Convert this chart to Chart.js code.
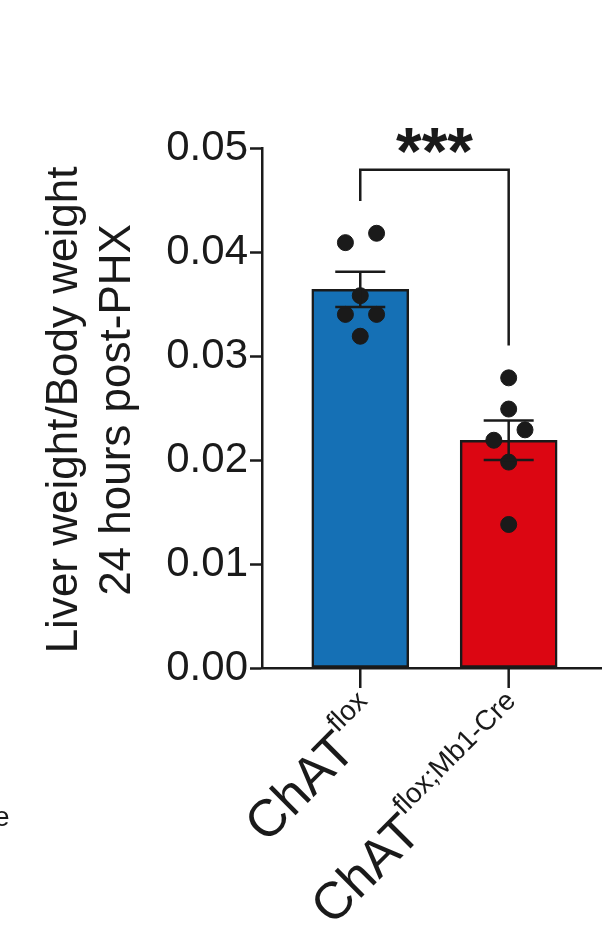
<!DOCTYPE html>
<html><head><meta charset="utf-8">
<script src="https://cdn.jsdelivr.net/npm/chart.js@4"></script>
<style>html,body{margin:0;padding:0;background:#fff}#w{width:610px;height:942px}</style>
</head><body><div id="w"><canvas id="c"></canvas></div>
<script>
const categories = ["ChAT|flox", "ChAT|flox;Mb1-Cre"];
const means = [0.0364, 0.0219];
const sems = [0.0017, 0.0019];
const pointsFlox = [0.0409, 0.0418, 0.0358, 0.0340, 0.0340, 0.0319];
const pointsCre = [0.0279, 0.0249, 0.0229, 0.0219, 0.0198, 0.0138];
const pointOffsets = [[-0.1, 0.11, 0, -0.1, 0.11, 0], [0, 0, 0.11, -0.1, 0, 0]];
const yTicks = [0, 0.01, 0.02, 0.03, 0.04, 0.05];
const barColors = ["#1570b5", "#dc0612"];
const signif = "***";
const yTitle = ["Liver weight/Body weight", "24 hours post-PHX"];
const FONT = "'Liberation Sans', Arial, sans-serif";
const INK = "#1a1a1a";

const scatter = [];
[pointsFlox, pointsCre].forEach((arr, g) => arr.forEach((v, i) => scatter.push({x: g + 1 + pointOffsets[g][i], y: v})));

const overlay = {
  id: 'overlay',
  afterDatasetsDraw(chart) {
    const ctx = chart.ctx, x = chart.scales.x, y = chart.scales.y;
    ctx.save();
    ctx.strokeStyle = INK; ctx.lineWidth = 2.5;
    const y0 = y.getPixelForValue(0);
    // x tick marks
    [1, 2].forEach(v => {
      const cx = x.getPixelForValue(v);
      ctx.beginPath(); ctx.moveTo(cx, y0); ctx.lineTo(cx, y0 + 20); ctx.stroke();
    });
    // error bars
    means.forEach((m, i) => {
      const cx = x.getPixelForValue(i + 1);
      const t = y.getPixelForValue(m + sems[i]), b = y.getPixelForValue(m - sems[i]);
      ctx.beginPath();
      ctx.moveTo(cx, t); ctx.lineTo(cx, b);
      ctx.moveTo(cx - 25, t); ctx.lineTo(cx + 25, t);
      ctx.moveTo(cx - 25, b); ctx.lineTo(cx + 25, b);
      ctx.stroke();
    });
    // bracket
    const x1 = x.getPixelForValue(1), x2 = x.getPixelForValue(2);
    const top = y.getPixelForValue(0.0479);
    ctx.beginPath();
    ctx.moveTo(x1, y.getPixelForValue(0.0449)); ctx.lineTo(x1, top);
    ctx.lineTo(x2, top); ctx.lineTo(x2, y.getPixelForValue(0.0310));
    ctx.stroke();
    ctx.fillStyle = INK;
    ctx.font = "bold 66px " + FONT; ctx.textAlign = 'center'; ctx.textBaseline = 'alphabetic';
    ctx.fillText(signif, (x1 + x2) / 2, top + 4);
    // x labels
    categories.forEach((c, i) => {
      const [base, sup] = c.split('|');
      const cx = x.getPixelForValue(i + 1);
      ctx.save();
      ctx.translate(cx + 14, 708);
      ctx.rotate(-Math.PI / 4);
      ctx.font = "52px " + FONT;
      const wb = ctx.measureText(base).width;
      ctx.font = "28px " + FONT;
      const ws = ctx.measureText(sup).width;
      ctx.textAlign = 'left'; ctx.textBaseline = 'alphabetic';
      ctx.font = "52px " + FONT;
      ctx.fillText(base, -(wb + ws), 20);
      ctx.font = "28px " + FONT;
      ctx.fillText(sup, -ws, -8);
      ctx.restore();
    });
    // y title
    ctx.save();
    ctx.translate(92, 410); ctx.rotate(-Math.PI / 2);
    ctx.font = "44px " + FONT; ctx.textAlign = 'center'; ctx.textBaseline = 'middle';
    ctx.fillText(yTitle[0], 0, -27);
    ctx.fillText(yTitle[1], 0, 26);
    ctx.restore();
    // cut-off neighbour text
    ctx.font = "28px " + FONT; ctx.textAlign = 'left';
    ctx.fillText("e", -6, 826);
    ctx.restore();
  }
};

new Chart(document.getElementById('c'), {
  data: {
    datasets: [
      {type: 'scatter', data: scatter, backgroundColor: INK, borderColor: INK, pointRadius: 8, pointHoverRadius: 8, order: 0},
      {type: 'bar', data: means.map((m, i) => ({x: i + 1, y: m})), backgroundColor: barColors, borderColor: INK, borderWidth: 2.5, borderSkipped: false, barThickness: 97, order: 1}
    ]
  },
  options: {
    responsive: true, maintainAspectRatio: false, animation: false,
    layout: {padding: {left: 0, right: 0, top: 148, bottom: 0}},
    plugins: {legend: {display: false}, tooltip: {enabled: false}},
    scales: {
      x: {
        type: 'linear', min: 0.338, max: 2.622, offset: false,
        grid: {display: false},
        border: {color: INK, width: 2.5},
        ticks: {display: false},
        afterFit: s => { s.height = 274; }
      },
      y: {
        min: 0, max: 0.05,
        grid: {display: true, drawOnChartArea: false, drawTicks: true, tickLength: 12, tickWidth: 2.5, tickColor: INK},
        border: {color: INK, width: 2.5},
        afterBuildTicks: s => { s.ticks = yTicks.map(v => ({value: v})); },
        ticks: {color: INK, font: {size: 42, family: FONT}, padding: 2, callback: v => v.toFixed(2)},
        afterFit: s => { s.width = 262; }
      }
    }
  },
  plugins: [overlay]
});
</script></body></html>
